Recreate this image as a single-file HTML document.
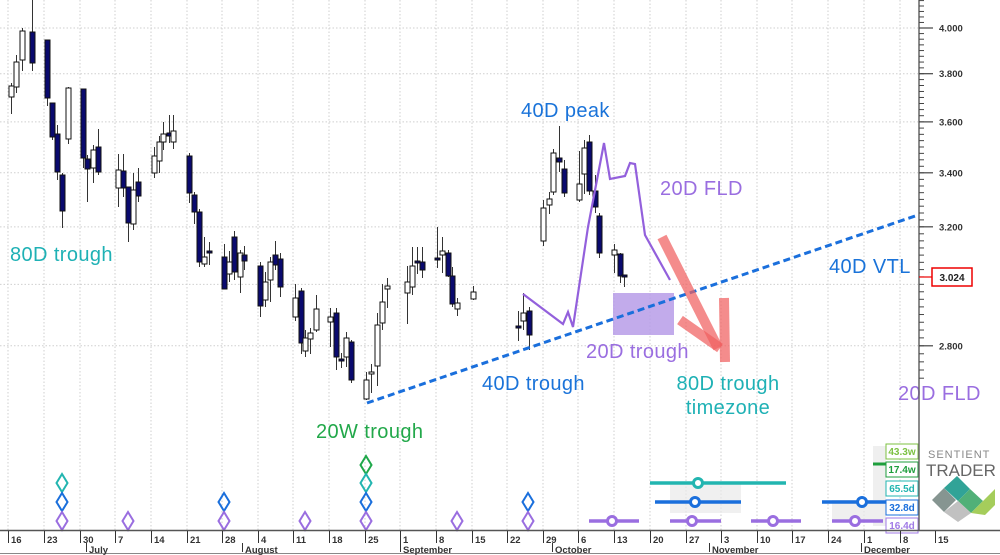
<!DOCTYPE html>
<html><head><meta charset="utf-8"><style>
html,body{margin:0;padding:0;background:#fff;}
svg{display:block;font-family:"Liberation Sans",sans-serif;}
</style></head><body>
<svg id="s" width="1000" height="555" viewBox="0 0 1000 555" xmlns="http://www.w3.org/2000/svg">
<rect width="1000" height="555" fill="#fff"/>
<g id="grid" stroke="#cfcfcf" stroke-dasharray="1.5,2" stroke-width="1"></g>
<g id="bands" fill="#e9e9e9" opacity="0.7">
<rect x="670" y="483" width="71" height="30"/>
<rect x="832" y="500" width="53" height="22"/>
<rect x="873" y="446" width="13" height="80"/>
</g>
<g id="candles"></g>
<rect x="613" y="293" width="61" height="42" fill="#b79ce8" opacity="0.85"/>
<polyline fill="none" stroke="#9360dc" stroke-width="2.2" points="523,294 563,324 568,312 573,327 588,227 604,143 610,179 625,176 630,163 635,164 645,235 670,280"/>
<line x1="367" y1="403" x2="918" y2="215" stroke="#1a6fdc" stroke-width="3" stroke-dasharray="7,4"/>
<g stroke="#f06060" stroke-opacity="0.72" stroke-width="10" fill="none">
<line x1="662" y1="237" x2="718" y2="348"/>
<line x1="680" y1="320" x2="720" y2="348"/>
<line x1="724" y1="298" x2="725" y2="362"/>
</g>
<g font-size="20" letter-spacing="0.4">
<text x="10" y="261" fill="#1fb1b5">80D trough</text>
<text x="521" y="117" fill="#1a73d9">40D peak</text>
<text x="660" y="195" fill="#9a6ee0">20D FLD</text>
<text x="829" y="273" fill="#1a73d9">40D VTL</text>
<text x="586" y="358" fill="#9a6ee0">20D trough</text>
<text x="482" y="390" fill="#1a73d9">40D trough</text>
<text x="728" y="390" fill="#1fb1b5" text-anchor="middle">80D trough</text>
<text x="728" y="414" fill="#1fb1b5" text-anchor="middle">timezone</text>
<text x="898" y="400" fill="#9a6ee0">20D FLD</text>
<text x="316" y="438" fill="#22a84a">20W trough</text>
</g>
<g id="diam" fill="#fff" stroke-width="2"></g>
<g id="proj"></g>
<g font-size="10" font-weight="bold">
<rect x="886" y="444" width="32" height="15" fill="#fff" stroke="#7cc142"/><text x="902" y="455" text-anchor="middle" fill="#7cc142">43.3w</text>
<line x1="873" y1="464" x2="886" y2="464" stroke="#1e9e3c" stroke-width="3"/>
<rect x="886" y="462" width="32" height="15" fill="#fff" stroke="#1e9e3c"/><text x="902" y="473" text-anchor="middle" fill="#1e9e3c">17.4w</text>
<rect x="886" y="481" width="32" height="15" fill="#fff" stroke="#22b5b0"/><text x="902" y="492" text-anchor="middle" fill="#22b5b0">65.5d</text>
<rect x="886" y="500" width="32" height="15" fill="#fff" stroke="#1a6fdc"/><text x="902" y="511" text-anchor="middle" fill="#1a6fdc">32.8d</text>
<rect x="886" y="518" width="32" height="15" fill="#fff" stroke="#a07ae6"/><text x="902" y="529" text-anchor="middle" fill="#a07ae6">16.4d</text>
</g>
<text x="928" y="458" font-size="11" fill="#888" letter-spacing="1">SENTIENT</text>
<text x="926" y="476" font-size="17" fill="#666">TRADER</text>
<g opacity="0.9">
<polygon points="932,500 944,488 956,500 944,512" fill="#7a8a86"/>
<polygon points="944,488 957,476 970,489 958,501" fill="#1b9a8c"/>
<polygon points="958,501 970,489 983,501 971,513" fill="#3fa86a"/>
<polygon points="971,513 983,501 995,489 995,505 985,515" fill="#9cc84a"/>
<polygon points="944,512 958,501 971,513 958,522" fill="#bbb"/>
</g>
<g id="axis"></g>
</svg>
<script>
var NS="http://www.w3.org/2000/svg";
function el(p,t,a,txt){var e=document.createElementNS(NS,t);for(var k in a)e.setAttribute(k,a[k]);if(txt!=null)e.textContent=txt;document.getElementById(p).appendChild(e);return e;}
function Y(p){return 28+Math.log(4/p)*891;}
var weeks=[8,44,80,115,151,187,222,258,293,329,365,400,436,472,507,543,578,614,650,686,721,757,792,828,864,900,935];
var wl=["16","23","30","7","14","21","28","4","11","18","25","1","8","15","22","29","6","13","20","27","3","10","17","24","1","8","15"];
weeks.forEach(function(x){if(x<918)el("grid","line",{x1:x,y1:0,x2:x,y2:530});});
[4.0,3.8,3.6,3.4,3.2,3.0,2.8].forEach(function(p){var y=Y(p);el("grid","line",{x1:0,y1:y,x2:918,y2:y});});
var C=[
[11,86,97,83,114,0],[16,62,87,55,93,0],[22,31,60,28,71,0],[32,32,63,0,71,1],[47,40,98,40,106,1],[52,103,137,103,140,1],[57,134,172,125,180,1],[62,175,211,173,228,1],[68,88,139,87,144,0],[83,89,158,89,168,1],[87,159,169,155,202,1],[93,150,168,145,183,0],[98,147,172,129,175,1],[118,170,188,154,207,0],[123,171,188,154,197,1],[128,187,223,187,242,1],[133,190,224,173,230,0],[138,182,196,168,202,1],[154,156,173,147,178,0],[159,142,161,136,173,0],[163,134,142,122,150,0],[169,133,136,115,143,1],[173,131,142,115,149,0],[189,156,193,153,203,1],[194,195,212,192,224,1],[199,212,262,209,267,1],[204,257,264,237,267,0],[209,251,253,242,265,1],[224,257,289,244,289,1],[229,262,274,251,282,0],[234,237,272,231,280,1],[240,253,277,250,293,0],[244,255,261,246,270,1],[260,266,306,262,317,1],[265,282,300,272,307,0],[270,262,280,257,302,0],[275,255,265,241,270,1],[280,259,287,253,297,1],[295,298,317,284,321,0],[301,291,343,288,354,1],[305,338,351,330,357,0],[310,333,339,328,354,0],[316,309,330,295,332,0],[330,317,322,308,347,0],[336,313,357,308,370,1],[341,359,361,353,368,1],[346,338,357,332,367,0],[351,342,380,340,383,1],[366,380,399,372,400,0],[371,372,374,364,393,0],[377,325,366,313,386,0],[382,302,323,284,330,0],[387,286,289,278,308,0],[407,282,293,266,324,0],[412,266,287,247,295,0],[417,261,263,247,274,1],[422,262,270,247,278,1],[437,258,260,227,268,1],[442,251,255,237,273,0],[448,253,276,250,277,1],[452,276,304,267,307,1],[457,303,309,298,316,0],[473,292,299,286,300,0],
[518,326,328,311,341,1],[523,313,321,293,330,0],[529,311,335,307,350,1],[543,208,241,200,246,0],[549,199,205,192,214,0],[553,153,192,149,195,0],[559,158,162,126,172,1],[564,169,193,160,197,1],[579,184,200,151,202,0],[584,148,174,140,194,0],[589,142,191,135,195,1],[595,191,207,175,213,1],[599,216,253,213,258,1],[614,250,255,244,273,0],[620,254,276,253,283,1],[624,275,277,275,287,1]];
C.forEach(function(c){el("candles","line",{x1:c[0]+0.5,y1:c[3],x2:c[0]+0.5,y2:c[4],stroke:"#333","stroke-width":1});
var h=Math.max(c[2]-c[1],1);el("candles","rect",{x:c[0]-2,y:c[1],width:5,height:h,fill:c[5]?"#0a0a6e":"#fff",stroke:"#111","stroke-width":1});});
var rows={g:[465,"#1fa84a"],t:[483,"#22b5b0"],b:[502,"#1a6fdc"],p:[521,"#9a6ee0"]};
var D=[[62,"tbp"],[128,"p"],[224,"bp"],[305,"p"],[366,"gtbp"],[457,"p"],[528,"bp"]];
D.forEach(function(d){for(var i=0;i<d[1].length;i++){var r=rows[d[1][i]],x=d[0],y=r[0];
el("diam","polygon",{points:(x)+","+(y-9)+" "+(x+5.5)+","+y+" "+x+","+(y+9)+" "+(x-5.5)+","+y,stroke:r[1],fill:"none"});}});
function pr(x1,x2,xc,y,c){el("proj","line",{x1:x1,y1:y,x2:x2,y2:y,stroke:c,"stroke-width":3.5});
el("proj","circle",{cx:xc,cy:y,r:4.5,fill:"#fff",stroke:c,"stroke-width":3});}
pr(650,786,698,483,"#22b5b0");pr(655,741,695,502,"#1a6fdc");pr(822,886,862,502,"#1a6fdc");
pr(589,639,612,521,"#9a6ee0");pr(670,721,692,521,"#9a6ee0");pr(751,801,773,521,"#9a6ee0");pr(832,883,855,521,"#9a6ee0");
el("axis","line",{x1:919,y1:0,x2:919,y2:531,stroke:"#666","stroke-width":1.5});
el("axis","line",{x1:0,y1:530.5,x2:1000,y2:530.5,stroke:"#555","stroke-width":1.5});
el("axis","line",{x1:0,y1:553.5,x2:1000,y2:553.5,stroke:"#888","stroke-width":1});
for(var p=2.7;p<=4.15;p+=0.025){var y=Y(p);if(y<0||y>530)continue;el("axis","line",{x1:919,y1:y,x2:924,y2:y,stroke:"#444"});}
[[4.0,"4.000"],[3.8,"3.800"],[3.6,"3.600"],[3.4,"3.400"],[3.2,"3.200"],[2.8,"2.800"]].forEach(function(a){var y=Y(a[0]);
el("axis","line",{x1:919,y1:y,x2:933,y2:y,stroke:"#444","stroke-width":1.2});
el("axis","text",{x:939,y:y+3.5,"font-size":"9.5","font-weight":"bold",fill:"#333"},a[1]);});
el("axis","line",{x1:919,y1:277,x2:933,y2:277,stroke:"#e00","stroke-width":1.2});
el("axis","rect",{x:932,y:268,width:40,height:18,fill:"#fff",stroke:"#e00","stroke-width":1.5});
el("axis","text",{x:952,y:281,"font-size":"10","font-weight":"bold",fill:"#222","text-anchor":"middle"},"3.024");
weeks.forEach(function(x,i){el("axis","line",{x1:x+0.5,y1:531,x2:x+0.5,y2:543,stroke:"#333"});
el("axis","text",{x:x+3,y:543,"font-size":"9.5","font-weight":"bold",fill:"#333"},wl[i]);});
[[86,"July"],[242,"August"],[400,"September"],[552,"October"],[709,"November"],[861,"December"]].forEach(function(m){
el("axis","line",{x1:m[0]+0.5,y1:543,x2:m[0]+0.5,y2:552,stroke:"#333"});
el("axis","text",{x:m[0]+3,y:553,"font-size":"9.5","font-weight":"bold",fill:"#333"},m[1]);});
</script>
</body></html>
